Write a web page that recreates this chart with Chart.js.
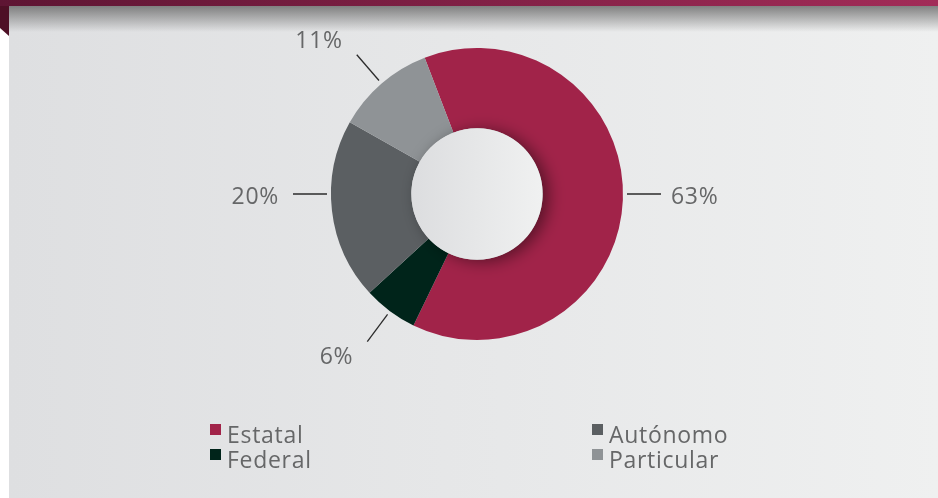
<!DOCTYPE html>
<html><head><meta charset="utf-8">
<script src="https://cdn.jsdelivr.net/npm/chart.js@4/dist/chart.umd.min.js"></script>
<style>html,body{margin:0;padding:0;background:#fff}#wrap{width:938px;height:498px;position:relative}</style>
</head><body><div id="wrap"><canvas id="c" width="938" height="498"></canvas></div>
<script>
const categories = ["Estatal", "Federal", "Autónomo", "Particular"];
const values = [63, 6, 20, 11];
const valueLabels = ["63%", "6%", "20%", "11%"];
const colors = ["#a12349", "#00241a", "#5b5f62", "#8f9396"];
const legendOrder = [0, 2, 1, 3]; // row-major: Estatal, Autónomo / Federal, Particular

const FONT = '"Open Sans", sans-serif';
const TEXT = '#666768';

const bgPlugin = {
  id: 'bg',
  beforeDraw(chart) {
    const ctx = chart.ctx, W = chart.width, H = chart.height;
    ctx.save();
    ctx.fillStyle = '#ffffff'; ctx.fillRect(0, 0, W, H);
    let g = ctx.createLinearGradient(9, 0, W, 0);
    g.addColorStop(0, '#dedfe1'); g.addColorStop(1, '#eff0f0');
    ctx.fillStyle = g; ctx.fillRect(9, 6, W - 9, H - 6);
    g = ctx.createLinearGradient(0, 6, 0, 32);
    g.addColorStop(0, 'rgba(110,110,110,0.85)'); g.addColorStop(1, 'rgba(110,110,110,0)');
    ctx.fillStyle = g; ctx.fillRect(9, 6, W - 9, 26);
    ctx.beginPath(); ctx.moveTo(0, 6); ctx.lineTo(9, 6); ctx.lineTo(9, 36); ctx.lineTo(0, 28); ctx.closePath();
    ctx.fillStyle = '#4e1026'; ctx.fill();
    g = ctx.createLinearGradient(0, 0, W, 0);
    g.addColorStop(0, '#5e1533'); g.addColorStop(1, '#a22c58');
    ctx.fillStyle = g; ctx.fillRect(0, 0, W, 6);
    ctx.restore();
  }
};

function setFont(ctx) {
  ctx.font = '400 23px ' + FONT;
  if ('letterSpacing' in ctx) ctx.letterSpacing = '0.7px';
}

const decoPlugin = {
  id: 'deco',
  afterDatasetsDraw(chart) {
    const ctx = chart.ctx;
    const meta = chart.getDatasetMeta(0);
    const a0 = meta.data[0];
    const cx = a0.x, cy = a0.y, R = a0.outerRadius, r = a0.innerRadius;
    ctx.save();
    ctx.shadowColor = 'rgba(0,0,0,0.45)';
    ctx.shadowBlur = 16; ctx.shadowOffsetX = 6; ctx.shadowOffsetY = 2;
    let g = ctx.createLinearGradient(cx - r, 0, cx + r, 0);
    g.addColorStop(0, '#dcdddf'); g.addColorStop(1, '#f0f1f1');
    ctx.beginPath(); ctx.arc(cx, cy, r, 0, Math.PI * 2); ctx.fillStyle = g; ctx.fill();
    ctx.restore();
    ctx.save();
    setFont(ctx);
    ctx.fillStyle = TEXT; ctx.strokeStyle = '#2b2b2b'; ctx.lineWidth = 1.3;
    meta.data.forEach((arc, i) => {
      let mid = (arc.startAngle + arc.endAngle) / 2;
      let deg = ((mid + Math.PI / 2) * 180 / Math.PI + 360) % 360;
      let horiz = false;
      if (Math.abs(deg - 90) < 12) { deg = 90; horiz = true; }
      if (Math.abs(deg - 270) < 12) { deg = 270; horiz = true; }
      const t = deg * Math.PI / 180;
      const sx = Math.sin(t), sy = -Math.cos(t);
      const r1 = R + 4, r2 = R + 38;
      const x1 = cx + sx * r1, y1 = cy + sy * r1, x2 = cx + sx * r2, y2 = cy + sy * r2;
      ctx.beginPath(); ctx.moveTo(x1, y1); ctx.lineTo(x2, y2); ctx.stroke();
      const right = sx > 0;
      ctx.textAlign = right ? 'left' : 'right';
      ctx.textBaseline = 'middle';
      const tx = x2 + (right ? 10 : -14);
      const ty = horiz ? y2 + 3 : y2 + (sy < 0 ? -13 : 16);
      ctx.fillText(valueLabels[i], tx, ty);
    });
    ctx.restore();
    ctx.save();
    setFont(ctx);
    ctx.textAlign = 'left'; ctx.textBaseline = 'alphabetic';
    const colX = [210, 592], rowY = [424, 449];
    legendOrder.forEach((idx, k) => {
      const col = k % 2, row = Math.floor(k / 2);
      const x = colX[col], y = rowY[row];
      ctx.fillStyle = chart.data.datasets[0].backgroundColor[idx];
      ctx.fillRect(x, y, 11, 11);
      ctx.fillStyle = TEXT;
      ctx.fillText(chart.data.labels[idx], x + 17, y + 19);
    });
    ctx.restore();
  }
};

new Chart(document.getElementById('c'), {
  type: 'doughnut',
  data: {
    labels: categories,
    datasets: [{ data: values, backgroundColor: colors, borderWidth: 0, hoverOffset: 0 }]
  },
  options: {
    responsive: false,
    animation: false,
    rotation: -21,
    cutout: '45%',
    layout: { padding: { left: 16, right: 0, top: 48, bottom: 158 } },
    plugins: { legend: { display: false }, tooltip: { enabled: false } },
    events: []
  },
  plugins: [bgPlugin, decoPlugin]
});
</script>
</body></html>
